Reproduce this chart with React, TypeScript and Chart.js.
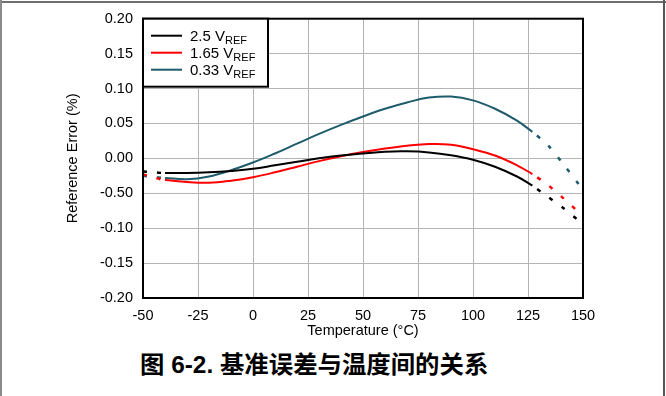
import React, { useEffect, useRef } from "react";
import { Chart, registerables } from "chart.js";
Chart.register(...registerables);

// Solid (specified) range
const temps = [-40, -30, -20, -10, 0, 10, 20, 30, 40, 50, 60, 70, 80, 90, 100, 110, 120, 127];
const err25 = [-0.021, -0.021, -0.02, -0.018, -0.015, -0.01, -0.005, 0.0, 0.004, 0.007, 0.0095, 0.01, 0.0085, 0.0045, -0.002, -0.012, -0.026, -0.039];
const err165 = [-0.031, -0.034, -0.035, -0.032, -0.027, -0.02, -0.012, -0.004, 0.003, 0.009, 0.014, 0.018, 0.0205, 0.0195, 0.013, 0.004, -0.01, -0.0225];
const err033 = [-0.028, -0.03, -0.026, -0.017, -0.006, 0.007, 0.021, 0.035, 0.048, 0.06, 0.071, 0.08, 0.087, 0.0885, 0.083, 0.071, 0.054, 0.038];

// Dashed (extrapolated) ranges
const leftTemps = [-50, -45, -41];
const left25 = [-0.019, -0.02, -0.021];
const left165 = [-0.023, -0.027, -0.031];
const left033 = [-0.025, -0.027, -0.028];
const rightTemps = [127, 134, 141, 148];
const right25 = [-0.039, -0.055, -0.071, -0.089];
const right165 = [-0.0225, -0.038, -0.057, -0.077];
const right033 = [0.038, 0.019, -0.008, -0.037];

const seriesNames = ["2.5 V", "1.65 V", "0.33 V"];
const seriesSub = "REF";
const seriesColors = ["#000000", "#ff0000", "#1e5c6d"];

const yTickValues = [0.2, 0.15, 0.1, 0.05, 0.0, -0.05, -0.1, -0.15, -0.2];
const yTickLabels = ["0.20", "0.15", "0.10", "0.05", "0.00", "-0.50", "-0.10", "-0.15", "-0.20"];

const FONT = "'Liberation Sans', Arial, sans-serif";

const pts = (xs: number[], ys: number[]) => xs.map((x, i) => ({ x, y: ys[i] }));

export default function App() {
  const ref = useRef<HTMLCanvasElement | null>(null);
  useEffect(() => {
    if (!ref.current) return;
    const solid = [err25, err165, err033];
    const lefts = [left25, left165, left033];
    const rights = [right25, right165, right033];
    const datasets: any[] = [];
    for (let i = 0; i < 3; i++) {
      datasets.push({
        label: seriesNames[i] + seriesSub,
        data: pts(temps, solid[i]),
        borderColor: seriesColors[i],
        borderWidth: 2,
        pointRadius: 0,
        tension: 0.4,
      });
      datasets.push({
        label: "",
        data: pts(leftTemps, lefts[i]),
        borderColor: seriesColors[i],
        borderWidth: 2.5,
        borderDash: [4, 10],
        pointRadius: 0,
        tension: 0.3,
      });
      datasets.push({
        label: "",
        data: pts(rightTemps, rights[i]),
        borderColor: seriesColors[i],
        borderWidth: 2.5,
        borderDash: [4, 11],
        borderDashOffset: -6,
        pointRadius: 0,
        tension: 0.3,
      });
    }

    const framePlugin = {
      id: "frameLegend",
      afterDraw(chart: any) {
        const { ctx, chartArea } = chart;
        const { left, top, right, bottom } = chartArea;
        ctx.save();
        ctx.strokeStyle = "#000";
        ctx.lineWidth = 2;
        ctx.strokeRect(left, top, right - left, bottom - top);
        // legend box
        const lw = 125, lh = 68;
        ctx.fillStyle = "#fff";
        ctx.fillRect(left, top, lw, lh);
        ctx.strokeRect(left, top, lw, lh);
        const rows = [17, 34, 51];
        for (let i = 0; i < 3; i++) {
          const y = top + rows[i];
          ctx.strokeStyle = seriesColors[i];
          ctx.lineWidth = 2;
          ctx.beginPath();
          ctx.moveTo(left + 8, y);
          ctx.lineTo(left + 39, y);
          ctx.stroke();
          ctx.fillStyle = "#000";
          ctx.textBaseline = "alphabetic";
          ctx.font = `15px ${FONT}`;
          const tx = left + 47;
          ctx.fillText(seriesNames[i], tx, y + 5);
          const w = ctx.measureText(seriesNames[i]).width;
          ctx.font = `11px ${FONT}`;
          ctx.fillText(seriesSub, tx + w, y + 8);
        }
        ctx.restore();
      },
    };

    const chart = new Chart(ref.current, {
      type: "line",
      data: { datasets },
      plugins: [framePlugin],
      options: {
        animation: false,
        responsive: false,
        maintainAspectRatio: false,
        layout: { padding: { top: 17, right: 83, left: 0, bottom: 0 } },
        plugins: { legend: { display: false }, tooltip: { enabled: false } },
        scales: {
          x: {
            type: "linear",
            min: -50,
            max: 150,
            ticks: { stepSize: 25, color: "#000", font: { size: 14.5, family: FONT }, padding: 9 },
            grid: { color: "#b4b4b4", drawTicks: false, lineWidth: 1 },
            border: { display: false },
            title: { display: true, text: "Temperature (°C)", color: "#000", font: { size: 14.5, family: FONT }, padding: { top: 0, bottom: 0 } },
            afterFit: (s: any) => { s.height = 42; },
          },
          y: {
            type: "linear",
            min: -0.2,
            max: 0.2,
            ticks: {
              stepSize: 0.05,
              color: "#000",
              font: { size: 14.5, family: FONT },
              padding: 10,
              callback: (v: any) => {
                let best = 0;
                for (let i = 0; i < yTickValues.length; i++) {
                  if (Math.abs(yTickValues[i] - v) < Math.abs(yTickValues[best] - v)) best = i;
                }
                return yTickLabels[best];
              },
            },
            grid: { color: "#b4b4b4", drawTicks: false, lineWidth: 1 },
            border: { display: false },
            title: { display: true, text: "Reference Error (%)", color: "#000", font: { size: 14.5, family: FONT }, padding: { top: 64, bottom: 0 } },
            afterFit: (s: any) => { s.width = 143; },
          },
        },
      },
    });
    return () => chart.destroy();
  }, []);

  return (
    <div style={{ position: "fixed", left: 0, top: 0, width: 666, height: 396, background: "#fff", overflow: "hidden" }}>
      <canvas ref={ref} width={666} height={340} style={{ position: "absolute", left: 0, top: 0 }} />
      <div
        style={{
          position: "absolute",
          left: 140,
          top: 350,
          fontSize: 24.4,
          fontWeight: "bold",
          fontFamily: "'Liberation Sans', Arial, 'Noto Sans CJK SC', sans-serif",
          color: "#000",
          whiteSpace: "nowrap",
          lineHeight: "30px",
        }}
      >
        图 6-2. 基准误差与温度间的关系
      </div>
      <div style={{ position: "absolute", left: 0, top: 1, width: 666, height: 2, background: "#6e6e6e" }} />
      <div style={{ position: "absolute", left: 0, top: 0, width: 2, height: 396, background: "#8a8a8a" }} />
      <div style={{ position: "absolute", left: 663, top: 0, width: 2, height: 396, background: "#555" }} />
    </div>
  );
}
